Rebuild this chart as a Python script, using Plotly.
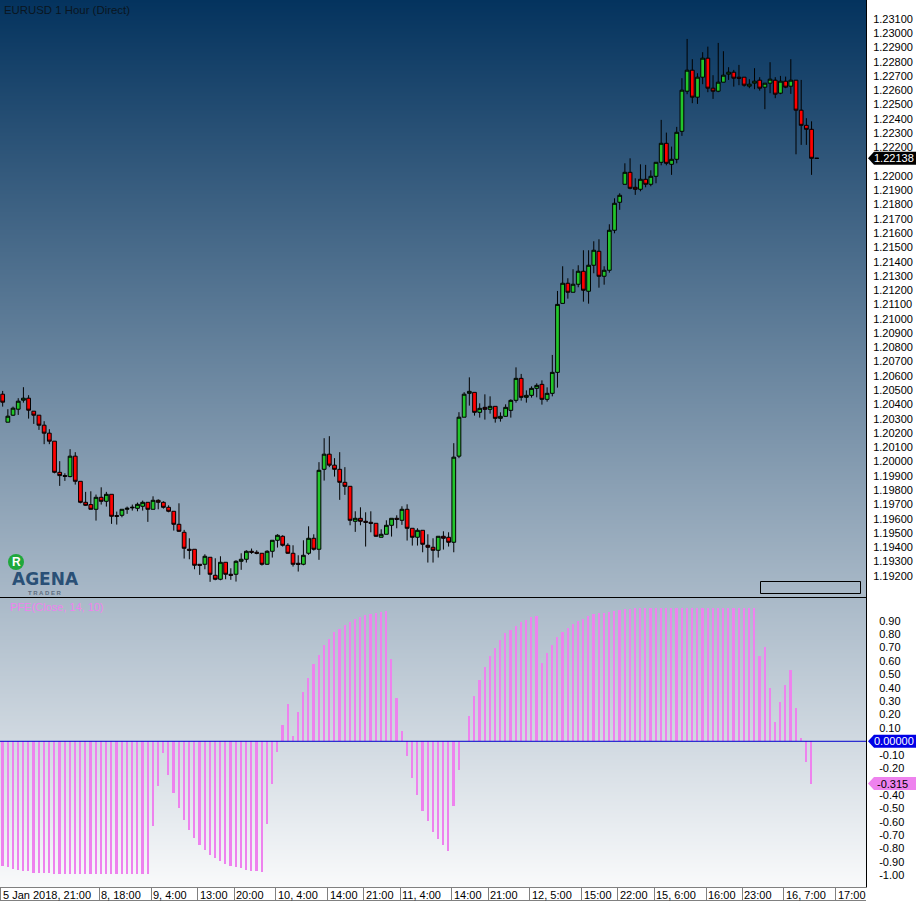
import plotly.graph_objects as go

# ---- data ----
opens = [1.20486,1.20290,1.20339,1.20381,1.20444,1.20458,1.20367,1.20339,1.20269,1.20213,
1.20157,1.19939,1.19916,1.19909,1.20052,1.19876,1.19729,1.19713,1.19680,1.19764,
1.19736,1.19785,1.19636,1.19638,1.19680,1.19690,1.19687,1.19701,1.19729,1.19680,
1.19743,1.19729,1.19694,1.19666,1.19575,1.19519,1.19400,1.19400,1.19295,1.19295,
1.19344,1.19218,1.19190,1.19309,1.19225,1.19225,1.19316,1.19330,1.19386,1.19379,
1.19372,1.19295,1.19386,1.19463,1.19491,1.19428,1.19372,1.19302,1.19295,1.19372,
1.19477,1.19400,1.19960,1.20066,1.19989,1.19960,1.19869,1.19841,1.19596,1.19617,
1.19596,1.19589,1.19582,1.19484,1.19505,1.19568,1.19617,1.19603,1.19680,1.19547,
1.19484,1.19533,1.19428,1.19414,1.19393,1.19491,1.19484,1.19449,1.20052,1.20325,
1.20492,1.20499,1.20359,1.20394,1.20380,1.20401,1.20317,1.20331,1.20373,1.20443,
1.20597,1.20464,1.20478,1.20527,1.20555,1.20450,1.20492,1.20639,1.21122,1.21263,
1.21200,1.21256,1.21347,1.21207,1.21389,1.21487,1.21312,1.21354,1.21634,1.21830,
1.21956,1.22040,1.21935,1.21921,1.21991,1.21956,1.22012,1.22110,1.22243,1.22096,
1.22131,1.22327,1.22608,1.22755,1.22566,1.22706,1.22839,1.22629,1.22608,1.22671,
1.22727,1.22741,1.22706,1.22706,1.22643,1.22664,1.22685,1.22636,1.22664,1.22685,
1.22594,1.22678,1.22643,1.22685,1.22475,1.22369,1.22341,1.22138]
highs = [1.20509,1.20381,1.20399,1.20458,1.20535,1.20479,1.20367,1.20339,1.20297,1.20241,
1.20157,1.20017,1.19932,1.20101,1.20080,1.19876,1.19802,1.19806,1.19783,1.19834,
1.19802,1.19785,1.19664,1.19680,1.19699,1.19713,1.19727,1.19741,1.19729,1.19771,
1.19750,1.19736,1.19708,1.19666,1.19722,1.19536,1.19477,1.19400,1.19295,1.19365,
1.19344,1.19337,1.19351,1.19309,1.19267,1.19323,1.19372,1.19393,1.19405,1.19393,
1.19372,1.19393,1.19463,1.19505,1.19498,1.19442,1.19428,1.19358,1.19463,1.19561,
1.19505,1.20010,1.20178,1.20192,1.20038,1.20080,1.19975,1.19841,1.19666,1.19694,
1.19659,1.19666,1.19582,1.19540,1.19603,1.19617,1.19638,1.19701,1.19715,1.19547,
1.19547,1.19533,1.19505,1.19477,1.19491,1.19526,1.19519,1.20143,1.20360,1.20500,
1.20604,1.20499,1.20422,1.20485,1.20471,1.20401,1.20359,1.20415,1.20450,1.20674,
1.20628,1.20513,1.20541,1.20562,1.20583,1.20534,1.20761,1.21209,1.21382,1.21298,
1.21361,1.21389,1.21494,1.21494,1.21557,1.21571,1.21382,1.21676,1.21858,1.21893,
1.22103,1.22138,1.21998,1.22096,1.22092,1.22054,1.22110,1.22407,1.22318,1.22220,
1.22358,1.22699,1.22974,1.22832,1.22734,1.22881,1.22920,1.22720,1.22946,1.22888,
1.22776,1.22757,1.22792,1.22706,1.22692,1.22769,1.22706,1.22664,1.22811,1.22706,
1.22715,1.22710,1.22832,1.22685,1.22687,1.22419,1.22397,1.22138]
lows = [1.20399,1.20290,1.20334,1.20341,1.20427,1.20315,1.20278,1.20236,1.20136,1.20136,
1.19932,1.19844,1.19879,1.19904,1.19853,1.19722,1.19704,1.19680,1.19601,1.19713,
1.19699,1.19578,1.19573,1.19624,1.19648,1.19671,1.19666,1.19671,1.19592,1.19680,
1.19680,1.19685,1.19659,1.19531,1.19522,1.19335,1.19330,1.19260,1.19221,1.19260,
1.19172,1.19183,1.19183,1.19190,1.19186,1.19174,1.19256,1.19307,1.19368,1.19365,
1.19286,1.19291,1.19342,1.19412,1.19419,1.19368,1.19279,1.19244,1.19288,1.19361,
1.19391,1.19326,1.19881,1.19975,1.19909,1.19746,1.19781,1.19568,1.19522,1.19568,
1.19419,1.19519,1.19487,1.19484,1.19505,1.19489,1.19547,1.19571,1.19461,1.19426,
1.19426,1.19379,1.19307,1.19307,1.19342,1.19398,1.19419,1.19379,1.20038,1.20325,
1.20406,1.20336,1.20322,1.20308,1.20350,1.20287,1.20294,1.20329,1.20322,1.20427,
1.20441,1.20427,1.20462,1.20464,1.20413,1.20434,1.20471,1.20532,1.21122,1.21155,
1.21200,1.21235,1.21134,1.21120,1.21333,1.21232,1.21253,1.21337,1.21613,1.21777,
1.21956,1.21921,1.21882,1.21907,1.21935,1.21942,1.21963,1.22089,1.22089,1.22022,
1.22103,1.22295,1.22587,1.22524,1.22519,1.22657,1.22601,1.22554,1.22601,1.22671,
1.22687,1.22640,1.22650,1.22640,1.22629,1.22622,1.22612,1.22482,1.22594,1.22559,
1.22587,1.22629,1.22589,1.22166,1.22232,1.22232,1.22022,1.22138]
closes = [1.20430,1.20332,1.20388,1.20437,1.20458,1.20374,1.20339,1.20269,1.20213,1.20157,
1.19939,1.19916,1.19911,1.20052,1.19876,1.19729,1.19708,1.19680,1.19764,1.19736,
1.19785,1.19631,1.19631,1.19680,1.19687,1.19694,1.19715,1.19729,1.19680,1.19743,
1.19729,1.19694,1.19666,1.19575,1.19526,1.19407,1.19393,1.19288,1.19288,1.19351,
1.19225,1.19190,1.19309,1.19225,1.19218,1.19316,1.19330,1.19386,1.19379,1.19372,
1.19295,1.19386,1.19463,1.19498,1.19428,1.19372,1.19295,1.19295,1.19358,1.19477,
1.19400,1.19953,1.20066,1.19989,1.19960,1.19869,1.19841,1.19603,1.19617,1.19596,
1.19589,1.19582,1.19491,1.19505,1.19568,1.19617,1.19610,1.19680,1.19547,1.19484,
1.19533,1.19435,1.19414,1.19393,1.19491,1.19477,1.19449,1.20045,1.20325,1.20486,
1.20506,1.20359,1.20387,1.20380,1.20401,1.20317,1.20331,1.20394,1.20443,1.20597,
1.20464,1.20478,1.20527,1.20548,1.20450,1.20492,1.20639,1.21115,1.21263,1.21200,
1.21256,1.21347,1.21214,1.21389,1.21494,1.21312,1.21354,1.21634,1.21823,1.21879,
1.22040,1.21928,1.21921,1.21991,1.21956,1.22012,1.22110,1.22243,1.22103,1.22131,
1.22320,1.22615,1.22755,1.22566,1.22706,1.22839,1.22629,1.22608,1.22671,1.22720,
1.22741,1.22699,1.22699,1.22650,1.22657,1.22678,1.22629,1.22664,1.22692,1.22587,
1.22678,1.22636,1.22685,1.22475,1.22369,1.22341,1.22138,1.22138]

pfe = [-.93,-.94,-.95,-.96,-.97,-.97,-.98,-.98,-.985,-.985,
-.987,-.99,-.99,-.99,-.993,-.993,-.993,-.993,-.993,-.993,
-.993,-.993,-.993,-.993,-.993,-.993,-.993,-.993,-.993,-.634,
-.336,-.09,-.254,-.386,-.50,-.59,-.664,-.724,-.774,-.813,
-.85,-.873,-.895,-.918,-.93,-.94,-.948,-.963,-.965,-.97,
-.978,-.62,-.318,-.077,.12,.276,.04,.216,.366,.475,
.575,.644,.716,.766,.813,.84,.868,.89,.915,.93,
.943,.95,.96,.965,.973,.617,.326,.08,-.112,-.276,
-.40,-.517,-.597,-.674,-.731,-.776,-.816,-.485,-.216,0,
.187,.336,.455,.557,.637,.697,.756,.806,.83,.86,
.89,.905,.93,.938,.582,.66,.72,.776,.816,.848,
.876,.898,.915,.933,.948,.955,.96,.965,.973,.978,
.985,.99,.993,.993,.993,.993,.993,.993,.993,.993,
.993,.993,.993,.993,.993,.993,.993,.993,.993,.993,
.993,.993,.993,.993,.993,.993,.639,.706,.395,.142,
.296,.423,.53,.251,.025,-.157,-.315]

bar_index = list(range(len(opens)))
pfe_index = list(range(len(pfe)))

price_ticks = ["1.23100","1.23000","1.22900","1.22800","1.22700","1.22600","1.22500","1.22400",
"1.22300","1.22200","1.22000","1.21900","1.21800","1.21700","1.21600","1.21500","1.21400",
"1.21300","1.21200","1.21100","1.21000","1.20900","1.20800","1.20700","1.20600","1.20500",
"1.20400","1.20300","1.20200","1.20100","1.20000","1.19900","1.19800","1.19700","1.19600",
"1.19500","1.19400","1.19300","1.19200"]
pfe_ticks = ["0.90","0.80","0.70","0.60","0.50","0.40","0.30","0.20","0.10",
"-0.10","-0.20","-0.40","-0.50","-0.60","-0.70","-0.80","-0.90","-1.00"]
time_labels = ["5 Jan 2018, 21:00","8, 18:00","9, 4:00","13:00","20:00","10, 4:00","14:00","21:00",
"11, 4:00","14:00","21:00","12, 5:00","15:00","22:00","15, 6:00","16:00","23:00","16, 7:00","17:00"]
time_index = [0,19,29,38,45,53,63,70,77,87,94,102,112,119,126,136,143,151,161]

last_price = 1.22138
last_pfe = -0.315
label_offset = 0.00014  # the source platform draws its price labels slightly above their level

W, H = 916, 901
FONT = "Liberation Sans"
px_x = lambda p: p / W
px_y = lambda p: 1 - p / H
xr = [-0.515, 166.5]

fig = go.Figure()
# background gradient spanning both panels
fig.add_trace(go.Heatmap(x=[0, 1], y=[0, 1], z=[[0, 0], [1, 1]], zmin=0, zmax=1, zsmooth="best",
                         colorscale=[[0, "#F9FAFB"], [1, "#04335E"]], showscale=False,
                         hoverinfo="skip", xaxis="x", yaxis="y"))
fig.add_trace(go.Candlestick(x=bar_index, open=opens, high=highs, low=lows, close=closes,
                             increasing=dict(fillcolor="#22C52B", line=dict(color="#000000", width=1)),
                             decreasing=dict(fillcolor="#FF0000", line=dict(color="#000000", width=1)),
                             whiskerwidth=0, xaxis="x2", yaxis="y2", showlegend=False))
fig.add_trace(go.Bar(x=pfe_index, y=pfe, width=0.33, marker=dict(color="#EE82EE", line=dict(width=0)),
                     xaxis="x3", yaxis="y3", showlegend=False))

ann = []
for lab, idx in zip(time_labels, time_index):
    ann.append(dict(text=lab, x=idx - 0.35, xref="x3", y=px_y(894.5), yref="paper", xanchor="left",
                    yanchor="middle", showarrow=False, font=dict(family=FONT, size=11, color="#000000")))
ann += [
    dict(text="EURUSD 1 Hour (Direct)", x=px_x(2), y=px_y(10), xref="paper", yref="paper", xanchor="left",
         yanchor="middle", showarrow=False, font=dict(family=FONT, size=11.4, color="#0A1520")),
    dict(text="PFE(Close, 14, 10)", x=px_x(8), y=px_y(607), xref="paper", yref="paper", xanchor="left",
         yanchor="middle", showarrow=False, font=dict(family=FONT, size=11, color="#EE82EE")),
    dict(text="<b>R</b>", x=px_x(16), y=px_y(562), xref="paper", yref="paper", showarrow=False, xanchor="center",
         yanchor="middle", font=dict(family=FONT, size=12, color="#FFFFFF")),
    dict(text="<b>AGENA</b>", x=px_x(45), y=px_y(579), xref="paper", yref="paper", showarrow=False, xanchor="center",
         yanchor="middle", font=dict(family="DejaVu Sans", size=17, color="#2A5076")),
    dict(text="<b>T R A D E R</b>", x=px_x(45), y=px_y(592.5), xref="paper", yref="paper", showarrow=False, xanchor="center",
         yanchor="middle", font=dict(family=FONT, size=6, color="#5E6E80")),
    dict(text=f"{last_price:.5f}", x=px_x(894), xref="paper", y=last_price, yref="y2", showarrow=False, xanchor="center",
         yanchor="middle", font=dict(family=FONT, size=11, color="#FFFFFF")),
    dict(text="0.00000", x=px_x(894), xref="paper", y=0, yref="y3", showarrow=False, xanchor="center",
         yanchor="middle", font=dict(family=FONT, size=11, color="#FFFFFF")),
    dict(text=f"{last_pfe:.3f}", x=px_x(892), xref="paper", y=last_pfe, yref="y3", showarrow=False, xanchor="center",
         yanchor="middle", font=dict(family=FONT, size=11, color="#000000")),
]

TAG = "M 0 0 L 6 6.5 L 48 6.5 L 48 -6.5 L 6 -6.5 Z"
def tag(value, yref, color):
    return dict(type="path", path=TAG, xref="paper", xsizemode="pixel", xanchor=px_x(868),
                yref=yref, ysizemode="pixel", yanchor=value, fillcolor=color, line=dict(width=0), layer="above")

shapes = [
    dict(type="line", xref="paper", yref="y3", x0=0, x1=px_x(866), y0=0, y1=0,
         line=dict(color="#0000CD", width=1), layer="above"),
    tag(last_price, "y2", "#000000"),
    tag(0, "y3", "#0000E6"),
    tag(last_pfe, "y3", "#EE82EE"),
    dict(type="rect", xref="paper", yref="paper", x0=px_x(760.5), x1=px_x(860.5), y0=px_y(593.5), y1=px_y(581.5),
         line=dict(color="#000000", width=1), fillcolor="rgba(0,0,0,0)"),
    dict(type="circle", xref="paper", yref="paper", x0=px_x(8), x1=px_x(24), y0=px_y(570), y1=px_y(554),
         line=dict(width=0), fillcolor="#1FA83C"),
    dict(type="line", xref="paper", yref="paper", x0=0, x1=px_x(866), y0=px_y(900.5), y1=px_y(900.5),
         line=dict(color="#808080", width=1)),
]

fig.update_layout(
    width=W, height=H, margin=dict(l=0, r=0, t=0, b=0), autosize=False,
    paper_bgcolor="#FFFFFF", plot_bgcolor="rgba(0,0,0,0)", showlegend=False, bargap=0,
    boxgap=0.15, boxgroupgap=0.15,
    font=dict(family=FONT, size=11, color="#000000"),
    annotations=ann, shapes=shapes, hovermode=False,
    xaxis=dict(domain=[0, px_x(866)], range=[0, 1], visible=False, fixedrange=True),
    yaxis=dict(domain=[px_y(887), 1], range=[0, 1], visible=False, fixedrange=True),
    xaxis2=dict(domain=[0, px_x(866)], range=xr, anchor="y2", showgrid=False, zeroline=False,
                showticklabels=False, ticks="", rangeslider=dict(visible=False),
                showline=True, linecolor="#000000", linewidth=1),
    yaxis2=dict(domain=[px_y(597), 1], range=[1.190658, 1.232466], anchor="x2", side="right",
                showgrid=False, zeroline=False, tickmode="array",
                tickvals=[float(t) + label_offset for t in price_ticks], ticktext=price_ticks,
                ticks="outside", ticklen=4, tickcolor="rgba(0,0,0,0)",
                tickfont=dict(family=FONT, size=11, color="#000000"),
                showline=True, linecolor="#000000", linewidth=1),
    xaxis3=dict(domain=[0, px_x(866)], range=xr, anchor="y3", showgrid=False, zeroline=False,
                tickmode="array", tickvals=[i - 0.35 for i in time_index], showticklabels=False,
                ticks="outside", ticklen=13, tickcolor="#808080", tickwidth=1,
                showline=True, linecolor="#808080", linewidth=1),
    yaxis3=dict(domain=[px_y(887), px_y(598)], range=[-1.087, 1.069], anchor="x3", side="right",
                showgrid=False, zeroline=False,
                tickmode="array", tickvals=[float(t) for t in pfe_ticks], ticktext=pfe_ticks,
                ticks="outside", ticklen=10, tickcolor="rgba(0,0,0,0)",
                tickfont=dict(family=FONT, size=11, color="#000000"),
                showline=True, linecolor="#000000", linewidth=1),
)

fig.write_html("out.html", config={"displayModeBar": False}, post_script="document.body.style.margin='0';")
